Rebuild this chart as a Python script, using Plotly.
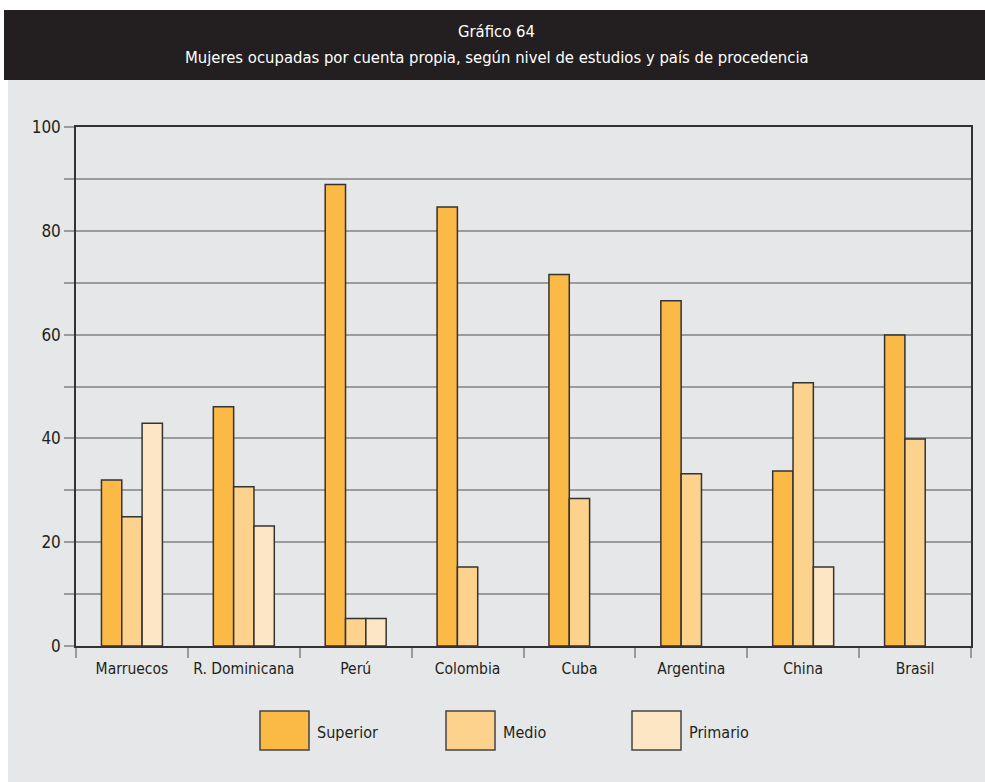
import plotly.graph_objects as go

# Datos
paises = ["Marruecos", "R. Dominicana", "Perú", "Colombia", "Cuba", "Argentina", "China", "Brasil"]
superior = [32.0, 46.1, 88.9, 84.6, 71.6, 66.5, 33.7, 59.9]
medio = [24.9, 30.7, 5.3, 15.2, 28.4, 33.2, 50.7, 39.9]
primario = [42.9, 23.1, 5.3, None, None, None, 15.2, None]

series = ["Superior", "Medio", "Primario"]
colores = ["#FBB945", "#FDD28D", "#FDE6C4"]

titulo = "Gráfico 64"
subtitulo = "Mujeres ocupadas por cuenta propia, según nivel de estudios y país de procedencia"

FONT = "DejaVu Sans Condensed, Liberation Sans Narrow, sans-serif"
BG = "#E6E7E8"
DARK = "#231F20"

W, H = 985, 782
L, R, T, B = 76, 14, 127, 136
pw, ph = W - L - R, H - T - B


def px_x(x):
    return (x - L) / pw


def px_y(y):
    return (H - B - y) / ph


fig = go.Figure()
for nombre, valores, color in zip(series, [superior, medio, primario], colores):
    fig.add_trace(go.Bar(
        x=paises, y=valores, name=nombre,
        marker=dict(color=color, line=dict(color="#333333", width=1.5)),
        showlegend=False,
    ))

shapes = [
    # fondo gris y banda del título
    dict(type="rect", xref="paper", yref="paper", layer="below",
         x0=px_x(0), x1=px_x(W), y0=px_y(0), y1=px_y(H), fillcolor="white", line_width=0),
    dict(type="rect", xref="paper", yref="paper", layer="below",
         x0=px_x(8), x1=px_x(W), y0=px_y(80), y1=px_y(H), fillcolor=BG, line_width=0),
    dict(type="rect", xref="paper", yref="paper", layer="below",
         x0=px_x(4), x1=px_x(W), y0=px_y(80), y1=px_y(10), fillcolor=DARK, line_width=0),
]

annotations = []
for texto, ypix in [(titulo, 31), (subtitulo, 58)]:
    annotations.append(dict(text=texto, xref="paper", yref="paper",
                            x=px_x(W / 2 + 4), y=px_y(ypix), xanchor="center", yanchor="middle",
                            showarrow=False, font=dict(family=FONT, size=16.5, color="white")))

# leyenda dibujada a mano (cajas grandes como en el original)
for i, (nombre, color) in enumerate(zip(series, colores)):
    x0 = 260 + i * 186
    shapes.append(dict(type="rect", xref="paper", yref="paper",
                       x0=px_x(x0), x1=px_x(x0 + 49), y0=px_y(750), y1=px_y(711),
                       fillcolor=color, line=dict(color="#444444", width=1.5)))
    annotations.append(dict(text=nombre, xref="paper", yref="paper",
                            x=px_x(x0 + 55), y=px_y(732), xanchor="left", yanchor="middle",
                            showarrow=False, font=dict(family=FONT, size=16, color=DARK)))

fig.update_layout(
    width=W, height=H,
    margin=dict(l=L, r=R, t=T, b=B),
    paper_bgcolor=BG, plot_bgcolor=BG,
    barmode="group", bargap=0.455, bargroupgap=0,
    font=dict(family=FONT, size=16, color=DARK),
    shapes=shapes, annotations=annotations,
)

fig.update_yaxes(
    range=[0, 100], dtick=20, tickfont=dict(size=17, color=DARK),
    showgrid=True, gridcolor="#9A9B9D", gridwidth=1.5,
    ticks="outside", ticklen=10, tickcolor="#9A9B9D", tickwidth=1.5,
    minor=dict(dtick=10, showgrid=True, gridcolor="#9A9B9D", gridwidth=1.5,
               ticks="outside", ticklen=10, tickcolor="#9A9B9D"),
    showline=True, linecolor="#333333", linewidth=1.5, mirror=True,
    zeroline=False,
)
fig.update_xaxes(
    tickson="boundaries", ticks="outside", ticklen=10, tickcolor="#9A9B9D", tickwidth=1.5,
    tickfont=dict(size=15.5, color=DARK), tickangle=0, ticklabelstandoff=8,
    showline=True, linecolor="#333333", linewidth=1.5, mirror=True,
    showgrid=False,
)

fig.write_html("out.html", config={"displayModeBar": False},
               post_script="document.body.style.margin='0';")
